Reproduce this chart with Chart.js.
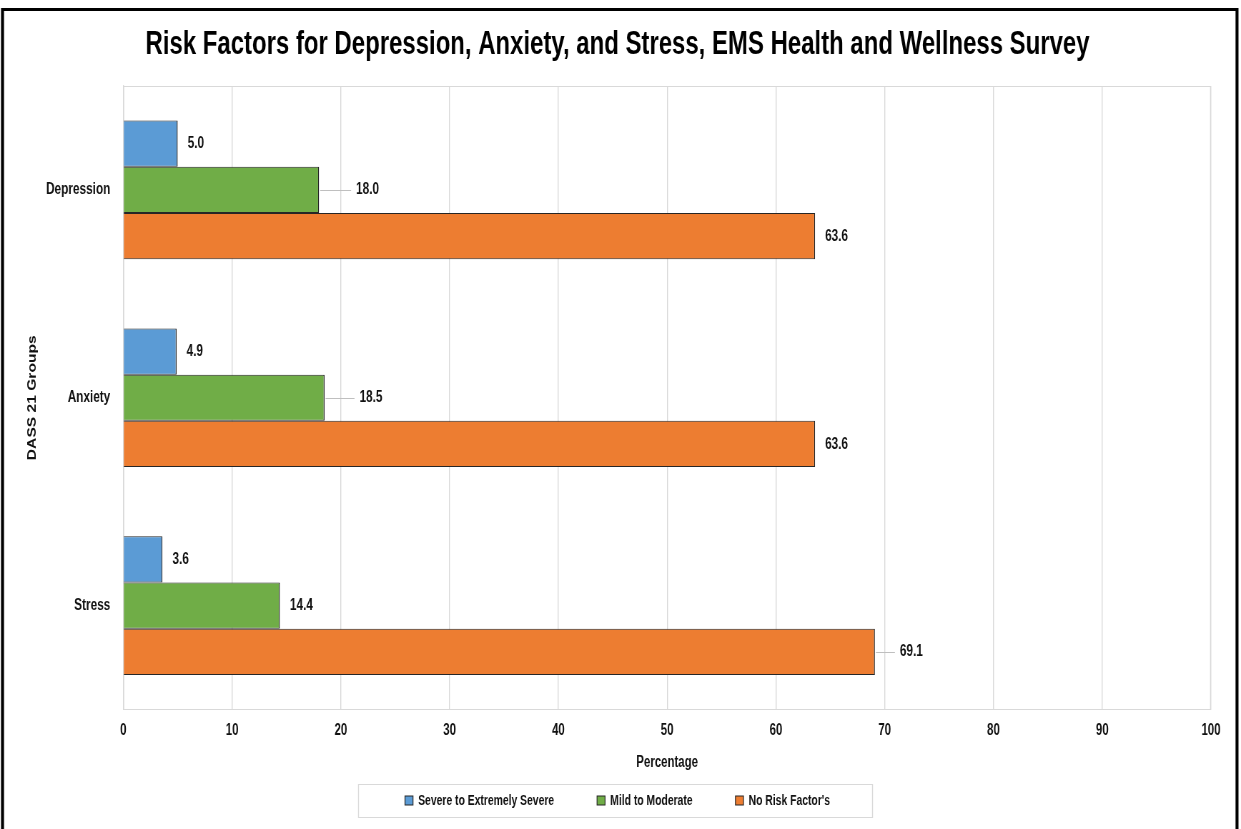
<!DOCTYPE html>
<html>
<head>
<meta charset="utf-8">
<title>Risk Factors for Depression, Anxiety, and Stress</title>
<script src="https://cdn.jsdelivr.net/npm/chart.js@4.4.1/dist/chart.umd.min.js"></script>
<style>
  html, body { margin: 0; padding: 0; background: #ffffff; overflow: hidden; }
  #wrap { width: 1241px; height: 829px; overflow: hidden; }
  #chart { display: block; width: 1241px; height: 829px; }
</style>
</head>
<body>
<div id="wrap"><canvas id="chart" width="1736" height="829" style="width:1241px;height:829px"></canvas></div>
<script>
// ---- data ----
const categories = ['Depression', 'Anxiety', 'Stress'];
const severeValues = [5.0, 4.9, 3.6];
const mildValues = [18.0, 18.5, 14.4];
const noRiskValues = [63.6, 63.6, 69.1];
const seriesLabels = ['Severe to Extremely Severe', 'Mild to Moderate', "No Risk Factor's"];
const xTickMin = 0;
const xTickMax = 100;
const xTickStep = 10;

// ---- style ----
// The drawing surface is wider than the page and squeezed horizontally by CSS,
// which gives the narrow, condensed lettering of the chart.
const SX = 1241 / 1736;
const toSurface = v => v / SX;

const FONT = "'Liberation Sans', Arial, sans-serif";
const seriesColors = ['#5B9BD5', '#70AD47', '#ED7D31'];
const textColor = '#111111';
const gridColor = '#d9d9d9';
const valueFontSize = 16.5;

// distance (page px) from a bar's end to its value label; a few labels sit further out on a leader line
const labelGap = 10;
const leaderGap = { '1:0': 37, '1:1': 35, '2:2': 25 };

Chart.defaults.font.family = FONT;

// draws in page-pixel coordinates so line widths stay true after the squeeze
function pageSpace(ctx) {
  ctx.save();
  ctx.scale(1 / SX, 1);
}

// let the x axis reach below the legend's top edge so its tick labels and title are not clipped
const xAxisReach = {
  id: 'xAxisReach',
  afterLayout(chart) {
    const s = chart.scales.x;
    s.bottom = s.top + 63;
    s.height = 63;
  }
};

const outerFrame = {
  id: 'outerFrame',
  afterDraw(chart) {
    const ctx = chart.ctx;
    pageSpace(ctx);
    ctx.strokeStyle = '#000000';
    ctx.lineWidth = 3;
    ctx.strokeRect(2.5, 9.5, 1234.5, 900);
    ctx.restore();
  }
};

const plotBox = {
  id: 'plotBox',
  beforeDatasetsDraw(chart) {
    const a = chart.chartArea;
    const ctx = chart.ctx;
    pageSpace(ctx);
    ctx.strokeStyle = gridColor;
    ctx.lineWidth = 1;
    const l = Math.round(a.left * SX) + 0.5;
    const r = Math.round(a.right * SX) - 0.5;
    ctx.strokeRect(l, Math.round(a.top) + 0.5, r - l, Math.round(a.bottom - a.top) - 1);
    ctx.restore();
  }
};

const valueLabels = {
  id: 'valueLabels',
  afterDatasetsDraw(chart) {
    const ctx = chart.ctx;
    chart.data.datasets.forEach((ds, i) => {
      const meta = chart.getDatasetMeta(i);
      meta.data.forEach((bar, j) => {
        const v = ds.data[j];
        const key = i + ':' + j;
        const off = leaderGap[key] || labelGap;
        if (leaderGap[key]) {
          pageSpace(ctx);
          const y = Math.round(bar.y) + 0.5;
          const x0 = bar.x * SX;
          ctx.strokeStyle = '#bfbfbf';
          ctx.lineWidth = 1;
          ctx.beginPath();
          ctx.moveTo(x0 + 1, y);
          ctx.lineTo(x0 + off - 5, y);
          ctx.stroke();
          ctx.restore();
        }
        ctx.save();
        ctx.font = `bold ${valueFontSize}px ${FONT}`;
        ctx.fillStyle = textColor;
        ctx.textAlign = 'left';
        ctx.textBaseline = 'middle';
        ctx.fillText(v.toFixed(1), bar.x + toSurface(off), bar.y);
        ctx.restore();
      });
    });
  }
};

const legendFrame = {
  id: 'legendFrame',
  afterDraw(chart) {
    const lg = chart.legend;
    if (!lg || !lg.legendHitBoxes || !lg.legendHitBoxes.length) return;
    const hb = lg.legendHitBoxes;
    const first = hb[0];
    const last = hb[hb.length - 1];
    const left = Math.round(first.left * SX - 47) + 0.5;
    const right = Math.round((last.left + last.width) * SX + 42) + 0.5;
    const cy = first.top + first.height / 2;
    const ctx = chart.ctx;
    pageSpace(ctx);
    ctx.strokeStyle = gridColor;
    ctx.lineWidth = 1;
    ctx.strokeRect(left, Math.round(cy - 16.5) + 0.5, right - left, 33);
    ctx.restore();
  }
};

const datasets = [severeValues, mildValues, noRiskValues].map((vals, i) => ({
  label: seriesLabels[i],
  data: vals,
  backgroundColor: seriesColors[i],
  borderColor: '#262626',
  borderWidth: { top: 1, bottom: 1, right: toSurface(1), left: toSurface(1) },
  categoryPercentage: 0.667,
  barPercentage: 1.0
}));

const tickFont = { size: 16, weight: 'bold', family: FONT };

new Chart(document.getElementById('chart'), {
  type: 'bar',
  data: { labels: categories, datasets },
  plugins: [xAxisReach, plotBox, valueLabels, legendFrame, outerFrame],
  options: {
    indexAxis: 'y',
    responsive: false,
    devicePixelRatio: 1,
    animation: false,
    layout: { padding: { left: toSurface(24), right: toSurface(30), top: 0, bottom: 11.25 } },
    plugins: {
      title: {
        display: true,
        text: 'Risk Factors for Depression, Anxiety, and Stress, EMS Health and Wellness Survey',
        color: '#000000',
        font: { size: 33.5, weight: 'bold', family: FONT },
        padding: { top: 24.9, bottom: 20.9 }
      },
      legend: {
        position: 'bottom',
        maxHeight: 90,
        labels: {
          boxWidth: toSurface(8),
          boxHeight: 9,
          padding: 60,
          color: textColor,
          font: { size: 14.5, weight: 'bold', family: FONT }
        }
      },
      tooltip: { enabled: false }
    },
    scales: {
      x: {
        type: 'linear',
        min: xTickMin,
        max: xTickMax,
        ticks: {
          stepSize: xTickStep,
          color: textColor,
          padding: 11.5,
          font: tickFont
        },
        grid: { color: gridColor, lineWidth: toSurface(1), drawTicks: false },
        border: { color: gridColor, width: 1 },
        title: {
          display: true,
          text: 'Percentage',
          color: textColor,
          font: { size: 16, weight: 'bold', family: FONT },
          padding: { top: 0, bottom: 0 }
        },
        afterFit(scale) { scale.height = 23.75; }
      },
      y: {
        type: 'category',
        offset: true,
        grid: { display: false, drawTicks: false },
        border: { color: gridColor, width: toSurface(1) },
        ticks: {
          color: textColor,
          padding: toSurface(13),
          font: { size: 16.5, weight: 'bold', family: FONT }
        },
        title: {
          display: true,
          text: 'DASS 21 Groups',
          color: textColor,
          font: { size: 15.6, weight: 'bold', family: FONT },
          padding: { top: 2.6, bottom: 0 }
        },
        afterFit(scale) { scale.width = toSurface(99.3); }
      }
    }
  }
});
</script>
</body>
</html>
